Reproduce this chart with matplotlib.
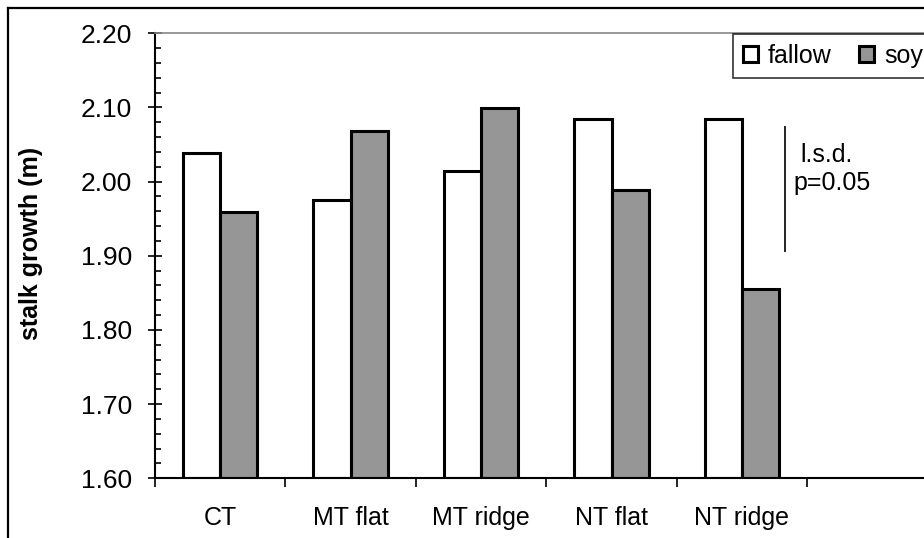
import matplotlib
matplotlib.use("Agg")
import matplotlib.pyplot as plt
from matplotlib.lines import Line2D
import numpy as np

plt.rcParams["font.family"] = ["Liberation Sans", "DejaVu Sans"]

CATEGORIES = ["CT", "MT flat", "MT ridge", "NT flat", "NT ridge"]
FALLOW = [2.038, 1.975, 2.015, 2.085, 2.085]
SOY = [1.959, 2.068, 2.099, 1.989, 1.855]
LSD = 0.17
LSD_TOP = 2.075

fig = plt.figure(figsize=(9.24, 5.38), dpi=100)
ax = fig.add_axes([155 / 924, 1 - 478.3 / 538, 782.6 / 924, (478.3 - 33.3) / 538])

# outer chart frame (top and left edges)
fig.add_artist(Line2D([8 / 924, 8 / 924], [0, 1 - 8 / 538], color="black", lw=1.6,
                      transform=fig.transFigure))
fig.add_artist(Line2D([8 / 924, 1], [1 - 8 / 538, 1 - 8 / 538], color="black", lw=1.6,
                      transform=fig.transFigure))

x = np.arange(len(CATEGORIES))
w = 0.285
ax.bar(x - w / 2, np.array(FALLOW) - 1.6, w, bottom=1.6, color="white",
       edgecolor="black", linewidth=2.2, label="fallow")
ax.bar(x + w / 2, np.array(SOY) - 1.6, w, bottom=1.6, color="#969696",
       edgecolor="black", linewidth=2.2, label="soy")

ax.set_xlim(-0.5, 5.5)
ax.set_ylim(1.6, 2.2)

# x axis: labels at category centres, tick marks at boundaries
ax.set_xticks(x)
ax.set_xticklabels(CATEGORIES, fontsize=18)
ax.set_xticks(np.arange(-0.5, 6.0, 1.0), minor=True)
ax.tick_params(axis="x", which="major", length=0, pad=20)
ax.tick_params(axis="x", which="minor", length=6.5, width=1.2, direction="out")

yt = np.arange(1.6, 2.21, 0.1)
ax.set_yticks(yt)
ax.set_yticklabels([f"{v:.2f}" for v in yt], fontsize=19)
ax.set_yticks(np.arange(1.6, 2.21, 0.02), minor=True)
ax.tick_params(axis="y", which="major", length=10, width=1.2, direction="inout", pad=11.5)
ax.tick_params(axis="y", which="minor", length=4.3, width=1.2, direction="in")

ax.set_ylabel("stalk growth (m)", fontsize=18, fontweight="bold")
ax.yaxis.set_label_coords(-0.143, 0.527)

for s in ["left", "bottom"]:
    ax.spines[s].set_linewidth(1.5)
ax.spines["top"].set_color("#888888")
ax.spines["top"].set_linewidth(1.2)
ax.spines["right"].set_visible(False)

# least significant difference bar
ax.vlines(4.331, LSD_TOP - LSD, LSD_TOP, color="black", lw=1.2)
ax.text(4.446, 2.036, "l.s.d.", fontsize=18, va="center", ha="left")
ax.text(4.393, 1.998, "p=0.05", fontsize=18, va="center", ha="left")

leg = ax.legend(loc="upper left", bbox_to_anchor=(733 / 924, 1 - 34 / 538),
                bbox_transform=fig.transFigure, ncol=2, fontsize=18,
                frameon=True, fancybox=False, handlelength=0.6, handleheight=0.6,
                handletextpad=0.4, columnspacing=1.1, borderpad=0.4,
                borderaxespad=0)
leg.get_frame().set_edgecolor("black")
leg.get_frame().set_linewidth(1.2)

fig.savefig("out.png", dpi=100)
